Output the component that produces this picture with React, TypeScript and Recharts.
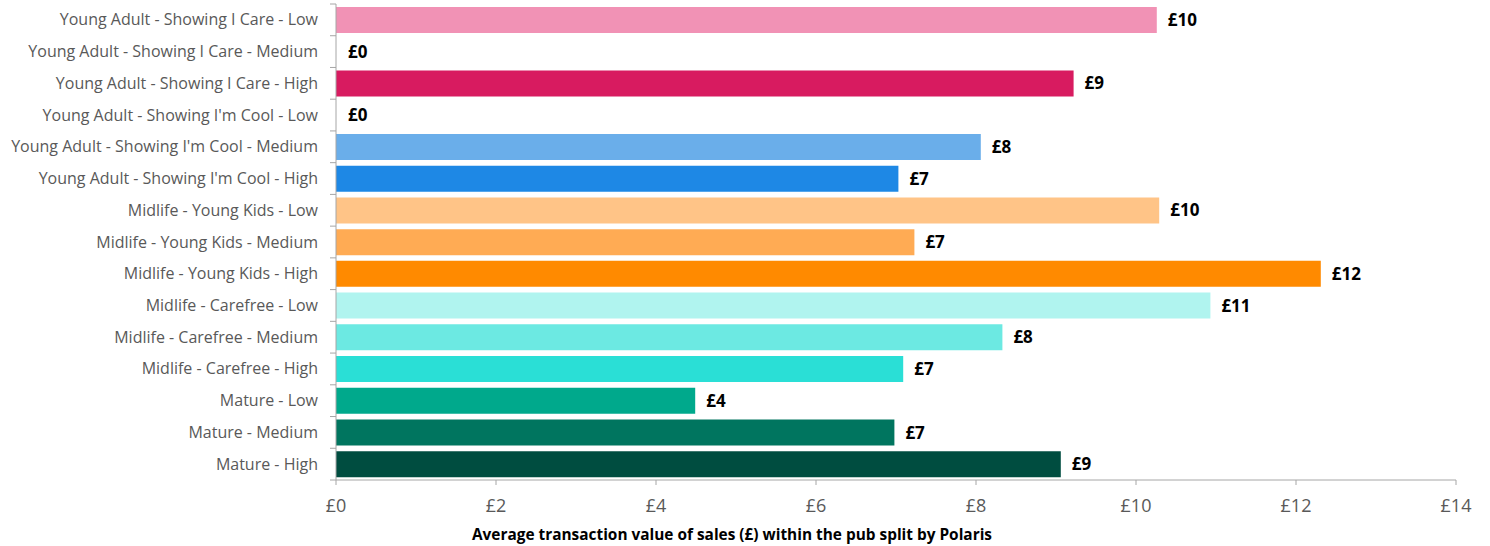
import React from 'react';
import { BarChart, Bar, XAxis, YAxis, Cell, LabelList } from 'recharts';

const categories = [
  'Young Adult - Showing I Care - Low',
  'Young Adult - Showing I Care - Medium',
  'Young Adult - Showing I Care - High',
  "Young Adult - Showing I'm Cool - Low",
  "Young Adult - Showing I'm Cool - Medium",
  "Young Adult - Showing I'm Cool - High",
  'Midlife - Young Kids - Low',
  'Midlife - Young Kids - Medium',
  'Midlife - Young Kids - High',
  'Midlife - Carefree - Low',
  'Midlife - Carefree - Medium',
  'Midlife - Carefree - High',
  'Mature - Low',
  'Mature - Medium',
  'Mature - High',
];

const values = [10.26, 0, 9.22, 0, 8.06, 7.03, 10.29, 7.23, 12.31, 10.93, 8.33, 7.09, 4.49, 6.98, 9.06];

const colors = [
  '#F192B5', '#F192B5', '#D81B60', '#6AAEEA', '#6AAEEA', '#1E88E5',
  '#FFC487', '#FFAB54', '#FF8A00', '#B0F4EF', '#6CE9E2', '#2ADFD6',
  '#00A98C', '#00755F', '#004D40',
];

const xTicks = [0, 2, 4, 6, 8, 10, 12, 14];

const data = categories.map((name, i) => ({ name, value: values[i] }));

const FONT = '"Open Sans", Lato, sans-serif';
const TICK_MARGIN = 18;

const YTick = (props: any) => {
  const { x, y, payload, index, visibleTicksCount } = props;
  const band = 476 / 15;
  const ax = x + TICK_MARGIN;
  return (
    <g>
      <line x1={ax - 6} x2={ax} y1={y - band / 2} y2={y - band / 2} stroke="#A6A6A6" />
      {index === visibleTicksCount - 1 && (
        <line x1={ax - 6} x2={ax} y1={y + band / 2} y2={y + band / 2} stroke="#A6A6A6" />
      )}
      <text x={x} y={y} dy={5.5} textAnchor="end" fill="#595959" fontSize={16} fontFamily={FONT}>
        {payload.value}
      </text>
    </g>
  );
};

const ValueLabel = (props: any) => {
  const { x, y, width, height, value } = props;
  return (
    <text
      x={x + width + 11}
      y={y + height / 2}
      dy={6}
      textAnchor="start"
      fill="#000"
      fontSize={17}
      fontWeight="bold"
      fontFamily={FONT}
    >
      {`£${Math.round(value)}`}
    </text>
  );
};

export default function App() {
  return (
    <div style={{ position: 'absolute', left: 0, top: 0, width: 1490, height: 546, background: '#fff' }}>
      <BarChart
        width={1490}
        height={546}
        data={data}
        layout="vertical"
        margin={{ top: 4, right: 34, bottom: 26, left: 0 }}
        barCategoryGap={3}
      >
        <XAxis
          type="number"
          domain={[0, 14]}
          ticks={xTicks}
          tickFormatter={(v: number) => `£${v}`}
          stroke="#A6A6A6"
          tickSize={5}
          tickMargin={14}
          height={40}
          tick={{ fill: '#595959', fontSize: 18, fontFamily: FONT }}
          label={{
            value: 'Average transaction value of sales (£) within the pub split by Polaris',
            position: 'insideBottom',
            offset: -20,
            dx: -164,
            fill: '#000',
            fontSize: 15.4,
            fontWeight: 'bold',
            fontFamily: FONT,
          }}
        />
        <YAxis
          type="category"
          dataKey="name"
          width={336}
          stroke="#A6A6A6"
          tickLine={false}
          tickSize={0}
          tickMargin={TICK_MARGIN}
          interval={0}
          tick={<YTick />}
        />
        <Bar dataKey="value" isAnimationActive={false} minPointSize={1}>
          {data.map((d, i) => (
            <Cell key={i} fill={d.value === 0 ? 'transparent' : colors[i]} />
          ))}
          <LabelList dataKey="value" content={<ValueLabel />} />
        </Bar>
      </BarChart>
    </div>
  );
}
